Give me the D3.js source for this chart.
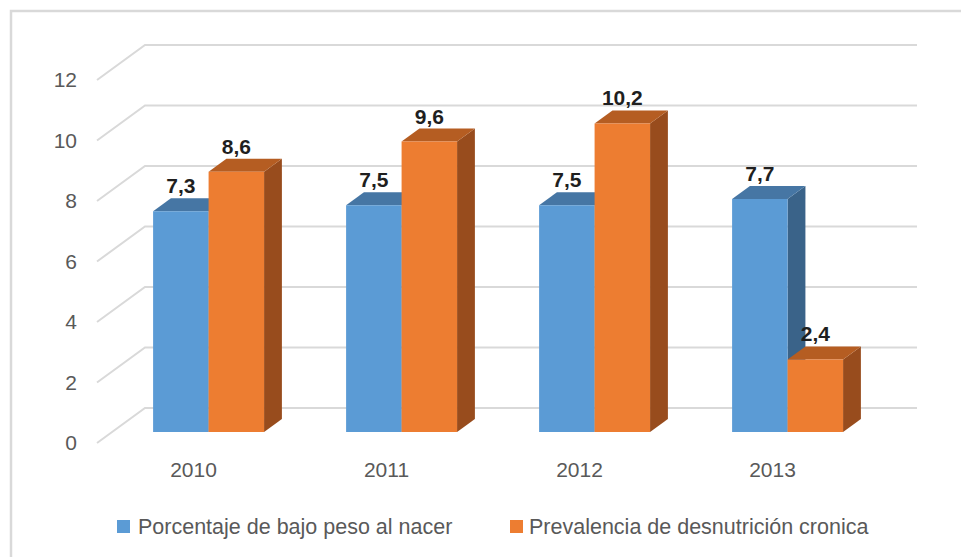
<!DOCTYPE html>
<html>
<head>
<meta charset="utf-8">
<script src="https://cdn.jsdelivr.net/npm/d3@7"></script>
<style>
  html, body { margin: 0; padding: 0; background: #ffffff; }
  svg { display: block; }
</style>
</head>
<body>
<svg id="chart" width="961" height="557"></svg>
<script>
// ---- data ----
const categories = ["2010", "2011", "2012", "2013"];
const seriesNames = ["Porcentaje de bajo peso al nacer", "Prevalencia de desnutrición cronica"];
const bajoPeso = [7.3, 7.5, 7.5, 7.7];
const desnutricion = [8.6, 9.6, 10.2, 2.4];
const yTicks = [0, 2, 4, 6, 8, 10, 12];

// ---- styling ----
const colors = [
  { front: "#5B9BD5", top: "#4676A4", side: "#3A6389" },
  { front: "#ED7D31", top: "#B55D22", side: "#984C1D" }
];
const gridColor = "#D9D9D9";
const textColor = "#595959";
const fontFamily = "'Liberation Sans', Arial, sans-serif";

const svg = d3.select("#chart");
const W = 961, H = 557;

// chart border
svg.append("rect")
  .attr("x", 11).attr("y", 11)
  .attr("width", W + 20).attr("height", H + 20)
  .attr("fill", "#fff").attr("stroke", gridColor).attr("stroke-width", 2.5);

// ---- projection ----
const DX = 48, DY = -35;           // depth vector (front -> back wall)
const zFront = 11 / 35, zBack = 24 / 35;
const y = d3.scaleLinear().domain([0, 12]).range([443, 80]);
const x0 = d3.scaleBand().domain(categories).range([97, 869])
  .paddingInner(0.425).paddingOuter(0.2125);
const x1 = d3.scaleBand().domain([0, 1]).range([0, x0.bandwidth()]);
const P = (x, v, z) => [x + DX * z, y(v) + DY * z];

const fmt = d3.formatLocale({ decimal: ",", thousands: ".", grouping: [3], currency: ["", ""] }).format(".1f");

// ---- gridlines (back wall + left wall) ----
const grid = svg.append("g");
yTicks.forEach(t => {
  const a = P(x0.range()[0], t, 0), b = P(x0.range()[0], t, 1), c = P(x0.range()[1], t, 1);
  grid.append("path")
    .attr("d", d3.line()([a, b, c]))
    .attr("fill", "none").attr("stroke", gridColor).attr("stroke-width", 2);
});

// y axis labels
const yAxis = d3.axisLeft(y).tickValues(yTicks).tickSize(0).tickPadding(0).tickFormat(d3.format("d"));
const yg = svg.append("g").attr("transform", `translate(${x0.range()[0] - 20},0)`).call(yAxis);
yg.select(".domain").remove();
yg.selectAll("text").attr("fill", textColor).attr("font-size", 21).attr("font-family", fontFamily);

// x axis labels
const xAxis = d3.axisBottom(x0).tickSize(0).tickPadding(0);
const xg = svg.append("g").attr("transform", `translate(0,${y(0) + 27})`).call(xAxis);
xg.select(".domain").remove();
xg.selectAll("text").attr("fill", textColor).attr("font-size", 21).attr("font-family", fontFamily)
  .attr("y", 0).attr("dy", "0.35em");

// ---- bars ----
const series = [bajoPeso, desnutricion];
const bars = [];
categories.forEach((c, i) => {
  series.forEach((s, j) => bars.push({ c, j, v: s[i] }));
});
const barG = svg.append("g");
bars.forEach(b => {
  const xl = x0(b.c) + x1(b.j), xr = xl + x1.bandwidth();
  const col = colors[b.j];
  const g = barG.append("g");
  const poly = pts => g.append("path").attr("d", d3.line()(pts) + "Z");
  poly([P(xr, 0, zFront), P(xr, 0, zBack), P(xr, b.v, zBack), P(xr, b.v, zFront)]).attr("fill", col.side);
  poly([P(xl, b.v, zFront), P(xr, b.v, zFront), P(xr, b.v, zBack), P(xl, b.v, zBack)]).attr("fill", col.top);
  poly([P(xl, 0, zFront), P(xr, 0, zFront), P(xr, b.v, zFront), P(xl, b.v, zFront)]).attr("fill", col.front);
});

// data labels
bars.forEach(b => {
  const xc = x0(b.c) + x1(b.j) + x1.bandwidth() / 2;
  const p = P(xc, b.v, zBack);
  svg.append("text")
    .attr("x", xc + DX * zFront).attr("y", p[1] - 5)
    .attr("text-anchor", "middle")
    .attr("font-family", fontFamily).attr("font-weight", "bold").attr("font-size", 21)
    .attr("fill", "#1F1F1F")
    .text(fmt(b.v));
});

// ---- legend ----
const legendItems = [
  { name: seriesNames[0], color: colors[0].front, x: 117, tx: 138 },
  { name: seriesNames[1], color: colors[1].front, x: 510, tx: 529 }
];
const lg = svg.append("g");
legendItems.forEach(d => {
  lg.append("rect").attr("x", d.x).attr("y", 520).attr("width", 13).attr("height", 13).attr("fill", d.color);
  lg.append("text").attr("x", d.tx).attr("y", 534)
    .attr("font-family", fontFamily).attr("font-size", 21.5).attr("fill", textColor)
    .text(d.name);
});
</script>
</body>
</html>
